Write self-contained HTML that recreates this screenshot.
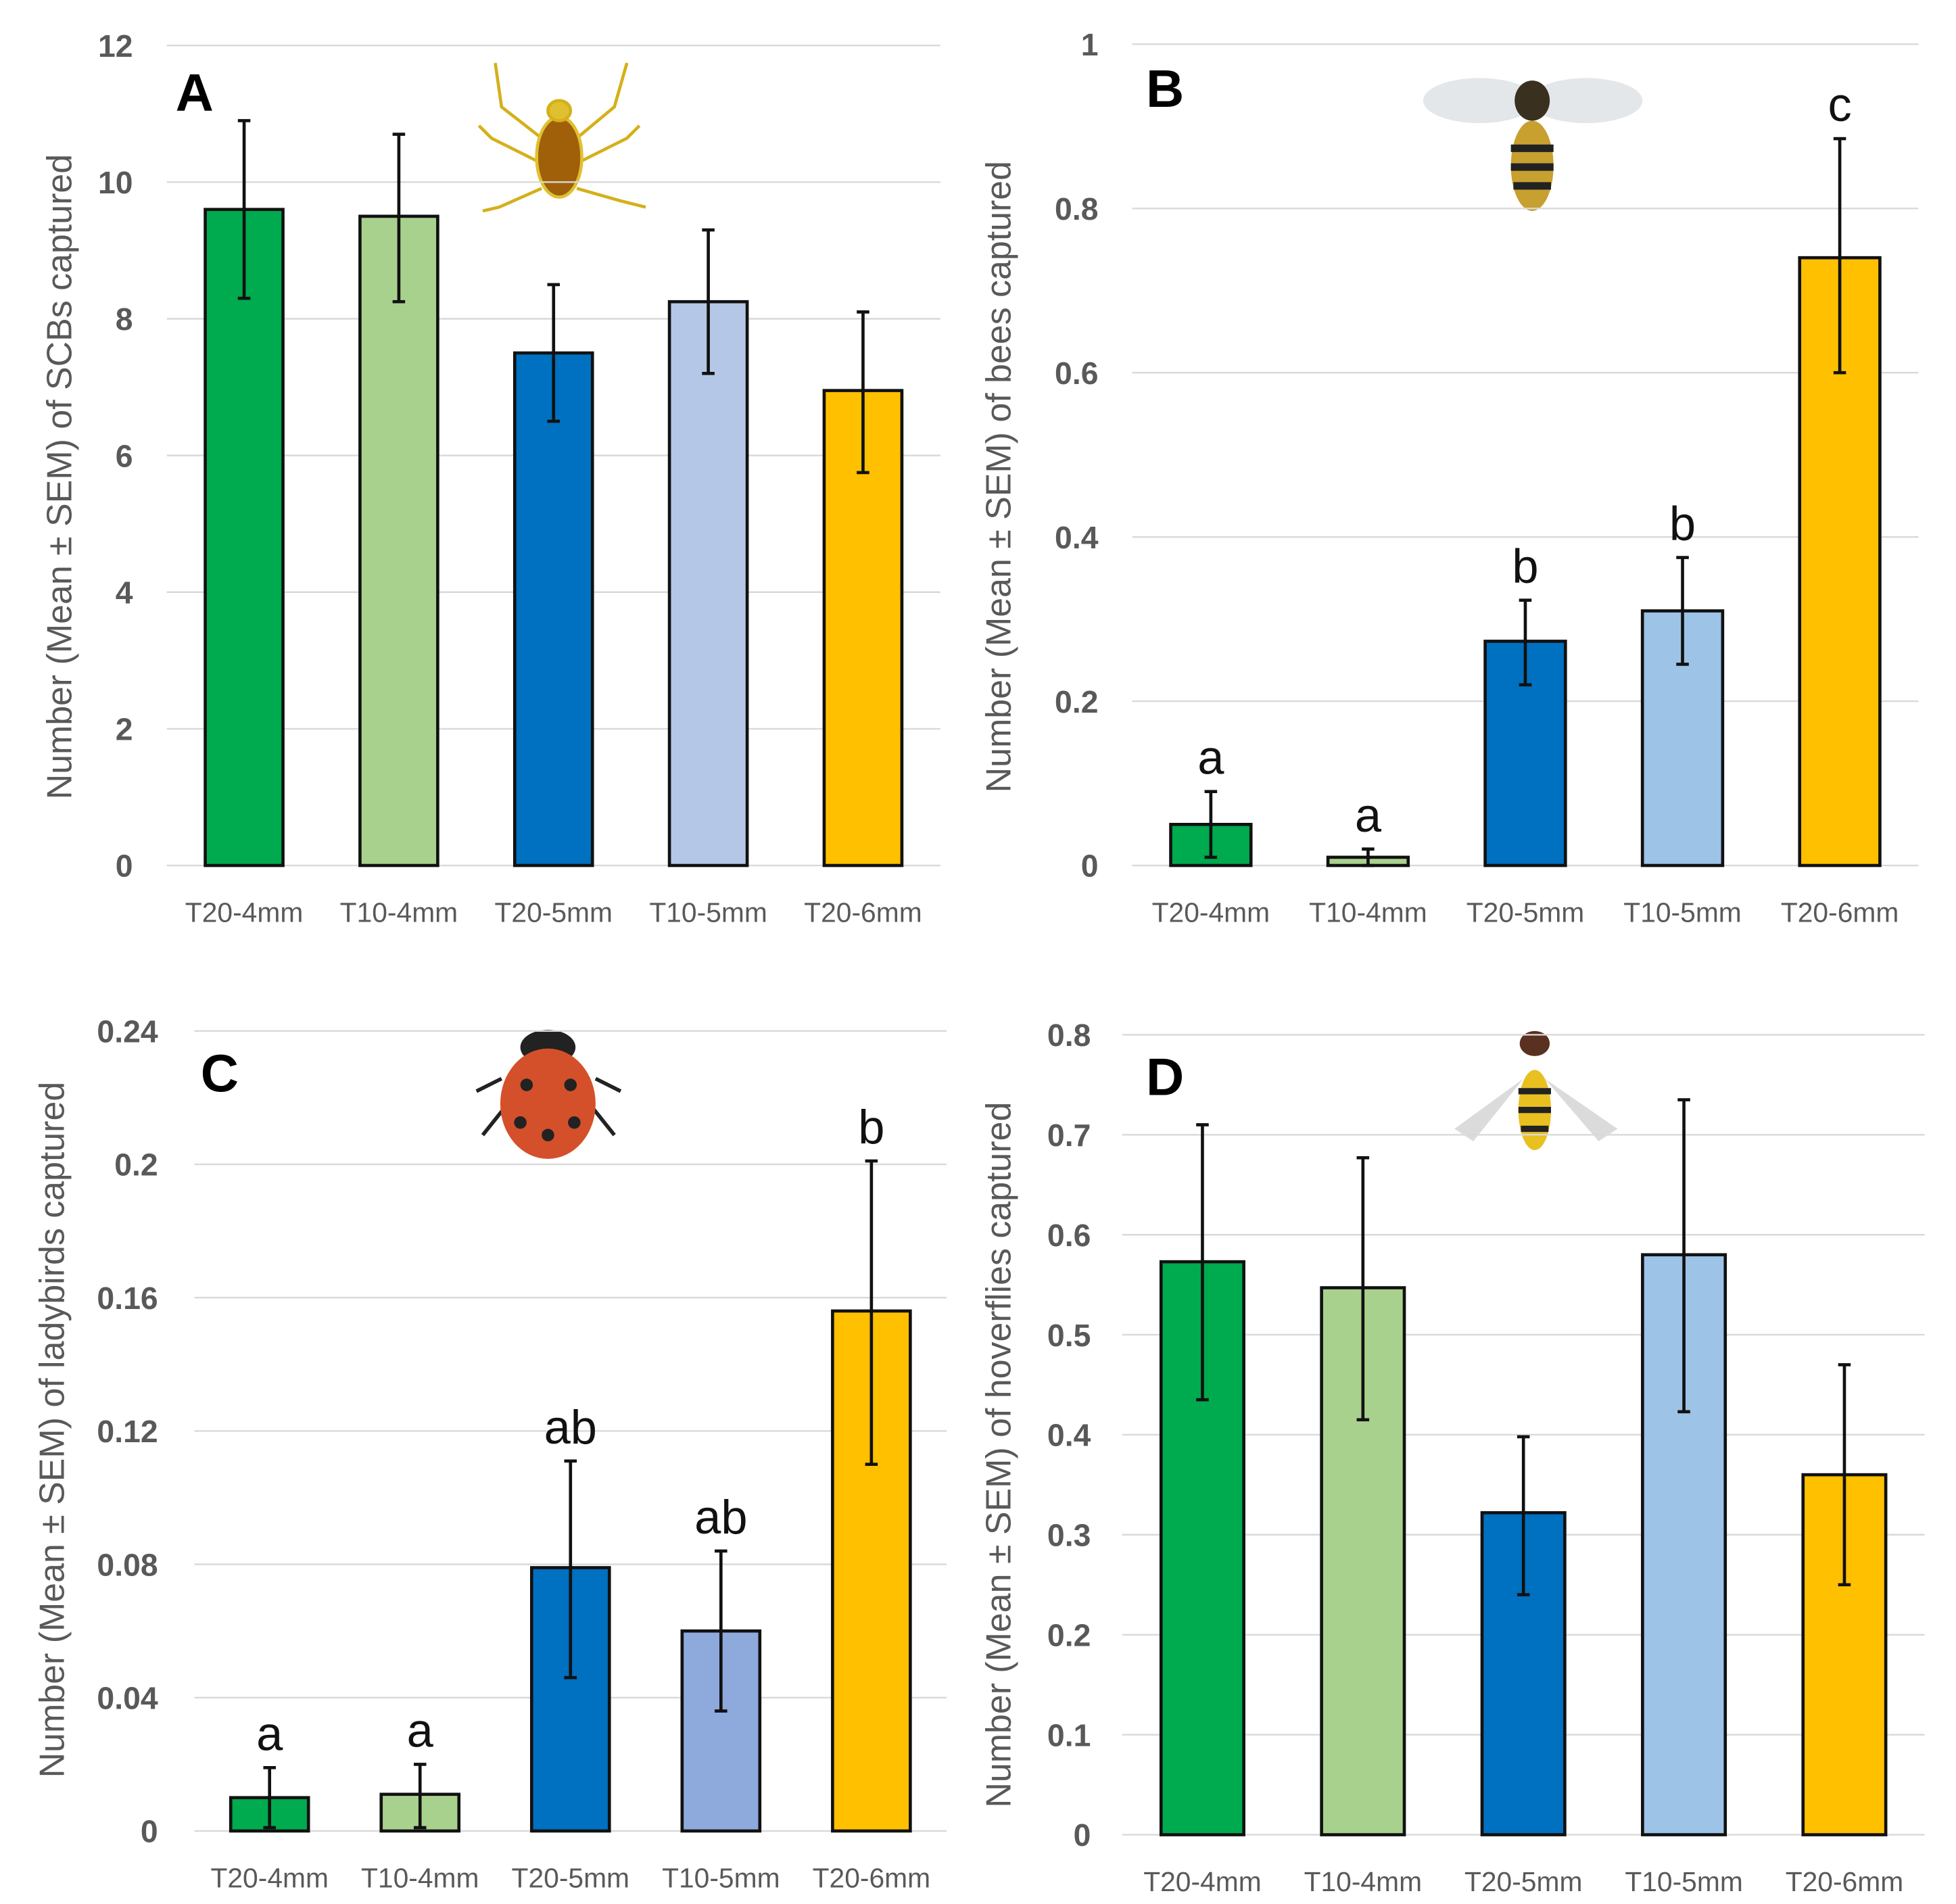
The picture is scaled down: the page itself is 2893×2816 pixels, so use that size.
<!DOCTYPE html>
<html><head><meta charset="utf-8"><style>
html,body{margin:0;padding:0;background:#fff}
svg{display:block}
text{font-family:"Liberation Sans",sans-serif}
</style></head><body>
<svg id="fig" width="2893" height="2816" viewBox="0 0 1560 1518" xmlns="http://www.w3.org/2000/svg">
<rect width="1560" height="1518" fill="#fff"/>
<g stroke="#d4b01a" stroke-width="2.5" fill="none">
<path d="M432 110 L400 85 L395 50 M432 150 L398 165 L385 168 M432 130 L392 110 L382 100 M460 110 L490 85 L500 50 M460 150 L495 160 L515 165 M460 130 L500 110 L510 100"/>
<ellipse cx="446" cy="125" rx="18" ry="32" fill="#a0600a" stroke="#e0c030"/>
<ellipse cx="446" cy="88" rx="9" ry="8" fill="#e0c030"/>
</g>
<g>
<ellipse cx="1180" cy="80" rx="45" ry="18" fill="#d8dde0" opacity="0.7"/>
<ellipse cx="1265" cy="80" rx="45" ry="18" fill="#d8dde0" opacity="0.7"/>
<ellipse cx="1222" cy="80" rx="14" ry="16" fill="#3a3020"/>
<ellipse cx="1222" cy="132" rx="17" ry="36" fill="#c8a030"/>
<path d="M1205 118h34M1205 133h34M1207 148h30" stroke="#222" stroke-width="6"/>
</g>
<g>
<path d="M405 880 L385 905 M470 880 L490 905 M400 860 L380 870 M475 860 L495 870" stroke="#222" stroke-width="3"/>
<ellipse cx="437" cy="835" rx="22" ry="14" fill="#222"/>
<ellipse cx="437" cy="880" rx="38" ry="44" fill="#d4502a"/>
<circle cx="420" cy="865" r="5" fill="#222"/><circle cx="455" cy="865" r="5" fill="#222"/><circle cx="415" cy="895" r="5" fill="#222"/><circle cx="458" cy="895" r="5" fill="#222"/><circle cx="437" cy="905" r="5" fill="#222"/>
</g>
<g>
<path d="M1215 860 L1160 900 L1175 910 Z M1232 860 L1290 900 L1275 910 Z" fill="#ccc" opacity="0.7"/>
<ellipse cx="1224" cy="832" rx="12" ry="10" fill="#5a3020"/>
<ellipse cx="1224" cy="885" rx="13" ry="32" fill="#e8c020"/>
<path d="M1211 870h26M1211 885h26M1213 900h22" stroke="#222" stroke-width="5"/>
</g>
<g id="charts"></g>
</svg>
<script>
// Panel A
const catsA = ["T20-4mm","T10-4mm","T20-5mm","T10-5mm","T20-6mm"];
const valsA = [9.6, 9.5, 7.5, 8.25, 6.95];
const hiA = [10.9, 10.7, 8.5, 9.3, 8.1];
const loA = [8.3, 8.25, 6.5, 7.2, 5.75];
const ticksA = [0,2,4,6,8,10,12];
const tickLabelsA = ["0","2","4","6","8","10","12"];
// Panel B
const catsB = ["T20-4mm","T10-4mm","T20-5mm","T10-5mm","T20-6mm"];
const valsB = [0.05, 0.01, 0.273, 0.31, 0.74];
const hiB = [0.09, 0.02, 0.323, 0.375, 0.885];
const loB = [0.01, 0.0, 0.22, 0.245, 0.6];
const letB = ["a","a","b","b","c"];
const ticksB = [0,0.2,0.4,0.6,0.8,1];
const tickLabelsB = ["0","0.2","0.4","0.6","0.8","1"];
// Panel C
const catsC = ["T20-4mm","T10-4mm","T20-5mm","T10-5mm","T20-6mm"];
const valsC = [0.01, 0.011, 0.079, 0.06, 0.156];
const hiC = [0.019, 0.02, 0.111, 0.084, 0.201];
const loC = [0.001, 0.001, 0.046, 0.036, 0.11];
const letC = ["a","a","ab","ab","b"];
const ticksC = [0,0.04,0.08,0.12,0.16,0.2,0.24];
const tickLabelsC = ["0","0.04","0.08","0.12","0.16","0.2","0.24"];
// Panel D
const catsD = ["T20-4mm","T10-4mm","T20-5mm","T10-5mm","T20-6mm"];
const valsD = [0.573, 0.547, 0.322, 0.58, 0.36];
const hiD = [0.71, 0.677, 0.398, 0.735, 0.47];
const loD = [0.435, 0.415, 0.24, 0.423, 0.25];
const ticksD = [0,0.1,0.2,0.3,0.4,0.5,0.6,0.7,0.8];
const tickLabelsD = ["0","0.1","0.2","0.3","0.4","0.5","0.6","0.7","0.8"];

const NS = "http://www.w3.org/2000/svg";
const root = document.getElementById("charts");
function mk(tag, attrs, parent, txt){
  const e = document.createElementNS(NS, tag);
  for (const k in attrs) e.setAttribute(k, attrs[k]);
  if (txt !== undefined) e.textContent = txt;
  parent.appendChild(e); return e;
}
function panel(p){
  const g = mk("g", {}, root);
  
  
  const y = v => p.y0 - (v / p.max) * (p.y0 - p.yTop);
  const step = (p.x1 - p.x0) / p.cats.length;
  const xc = i => p.x0 + step * (i + 0.5);
  p.ticks.forEach((t, i) => {
    const l = mk("line", {x1:p.x0, x2:p.x1, y1:y(t), y2:y(t), stroke:"#d9d9d9", "stroke-width":1.3}, g);
    
    
    const tx = mk("text", {x:p.tickX, y:y(t)+9, "text-anchor":"end", "font-size":25, "font-weight":"bold", fill:"#595959"}, g, p.tickLabels[i]);
    
    
  });
  p.cats.forEach((c, i) => {
    const x = xc(i);
    const b = mk("rect", {x:x - p.bw/2, y:y(p.vals[i]), width:p.bw, height:p.y0 - y(p.vals[i]), fill:p.colors[i], stroke:"#111", "stroke-width":2.5}, g);
    
    
    const e = mk("path", {d:`M${x} ${y(p.hi[i])}V${y(p.lo[i])}M${x-5} ${y(p.hi[i])}h10M${x-5} ${y(p.lo[i])}h10`, stroke:"#111", "stroke-width":2.5, fill:"none"}, g);
    
    
    const t = mk("text", {x:x, y:p.catY, "text-anchor":"middle", "font-size":22, fill:"#595959"}, g, c);
    
    
    if (p.lets){
      const s = mk("text", {x:x, y:y(p.hi[i]) - 14, "text-anchor":"middle", "font-size":38, fill:"#111"}, g, p.lets[i]);
      
      
    }
  });
  const tt = mk("text", {x:0, y:0, transform:`translate(${p.titleX},${p.titleY}) rotate(-90)`, "text-anchor":"middle", "font-size":28, fill:"#595959"}, g, p.title);
  
  
  const L = mk("text", {x:p.lx, y:p.ly, "font-size":42, "font-weight":"bold", fill:"#000"}, g, p.id);
  
  
}
const greens = ["#00AA4E","#A9D18E","#0070C0"];
panel({id:"A", cats:catsA, vals:valsA, hi:hiA, lo:loA, ticks:ticksA, tickLabels:tickLabelsA, max:12,
  x0:133, x1:750, y0:690, yTop:36, bw:62, tickX:106, catY:735,
  colors:[...greens,"#B4C7E7","#FFC000"], title:"Number (Mean ± SEM) of SCBs captured", titleX:57, titleY:380, lx:140, ly:88});
panel({id:"B", cats:catsB, vals:valsB, hi:hiB, lo:loB, lets:letB, ticks:ticksB, tickLabels:tickLabelsB, max:1,
  x0:903, x1:1530, y0:690, yTop:35, bw:64, tickX:876, catY:735,
  colors:[...greens,"#9DC3E6","#FFC000"], title:"Number (Mean ± SEM) of bees captured", titleX:806, titleY:380, lx:914, ly:85});
panel({id:"C", cats:catsC, vals:valsC, hi:hiC, lo:loC, lets:letC, ticks:ticksC, tickLabels:tickLabelsC, max:0.24,
  x0:155, x1:755, y0:1460, yTop:822, bw:62, tickX:126, catY:1505,
  colors:[...greens,"#8EA9DB","#FFC000"], title:"Number (Mean ± SEM) of ladybirds captured", titleX:51, titleY:1140, lx:160, ly:870});
panel({id:"D", cats:catsD, vals:valsD, hi:hiD, lo:loD, ticks:ticksD, tickLabels:tickLabelsD, max:0.8,
  x0:895, x1:1535, y0:1463, yTop:825, bw:66, tickX:870, catY:1508,
  colors:[...greens,"#9DC3E6","#FFC000"], title:"Number (Mean ± SEM) of hoverflies captured", titleX:806, titleY:1160, lx:914, ly:873});
</script>
</body></html>
